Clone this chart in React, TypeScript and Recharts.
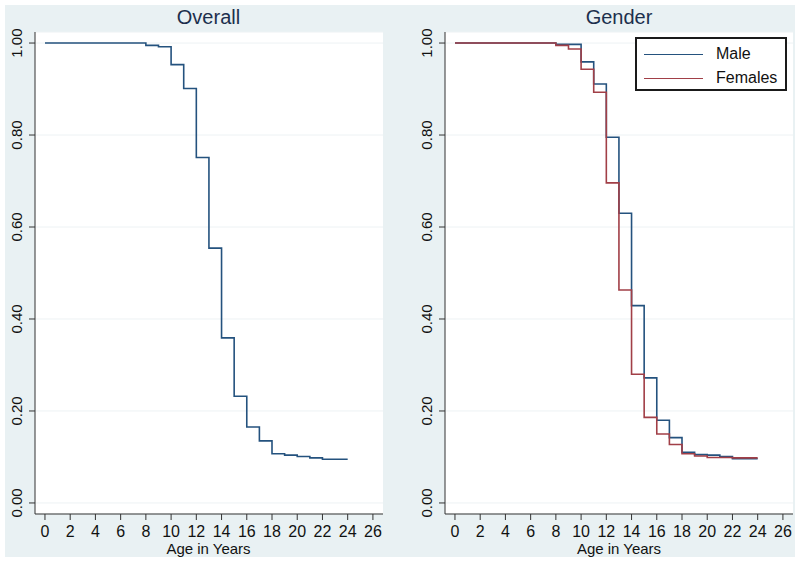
import React from "react";
import {
  LineChart,
  Line,
  XAxis,
  YAxis,
  CartesianGrid,
  Legend,
} from "recharts";

// Kaplan-Meier style survival estimates
const ages = [0, 1, 2, 3, 4, 5, 6, 7, 8, 9, 10, 11, 12, 13, 14, 15, 16, 17, 18, 19, 20, 21, 22, 23, 24];
const overall = [
  1, 1, 1, 1, 1, 1, 1, 1, 0.995, 0.992, 0.953, 0.901, 0.751, 0.554, 0.359,
  0.232, 0.165, 0.135, 0.107, 0.104, 0.101, 0.098, 0.095, 0.095, 0.095,
];
const male = [
  1, 1, 1, 1, 1, 1, 1, 1, 0.997, 0.997, 0.959, 0.911, 0.795, 0.63, 0.429,
  0.272, 0.18, 0.142, 0.11, 0.105, 0.104, 0.101, 0.096, 0.096, 0.096,
];
const females = [
  1, 1, 1, 1, 1, 1, 1, 1, 0.995, 0.987, 0.943, 0.893, 0.696, 0.463, 0.28,
  0.186, 0.15, 0.127, 0.107, 0.102, 0.099, 0.099, 0.098, 0.098, 0.098,
];
const xTicks = [0, 2, 4, 6, 8, 10, 12, 14, 16, 18, 20, 22, 24, 26];
const yTicks = [0, 0.2, 0.4, 0.6, 0.8, 1];
const legendOrder = ["male", "females"];

const BLUE = "#24527e";
const RED = "#a13f47";
const FONT = "'Liberation Sans', Arial, sans-serif";

const overallData = ages.map((age, i) => ({ age, overall: overall[i] }));
const genderData = ages.map((age, i) => ({ age, male: male[i], females: females[i] }));

// plot area: x 35..383, y 32..514 (axes take 30px each)
const margin = { top: 32, right: 17, bottom: 19, left: 5 };

const YTick = (props: any) => {
  const { x, y, payload } = props;
  const bx = x - 5;
  return (
    <text
      x={bx}
      y={y}
      transform={`rotate(-90, ${bx}, ${y})`}
      textAnchor="middle"
      fontSize={15}
      fontFamily={FONT}
      fill="#111"
    >
      {Number(payload.value).toFixed(2)}
    </text>
  );
};

const XTick = (props: any) => {
  const { x, y, payload } = props;
  return (
    <text x={x} y={y + 15} textAnchor="middle" fontSize={16} fontFamily={FONT} fill="#111">
      {payload.value}
    </text>
  );
};

const renderLegend = (props: any) => {
  const items = [...(props.payload || [])].sort(
    (a: any, b: any) => legendOrder.indexOf(a.dataKey) - legendOrder.indexOf(b.dataKey)
  );
  return (
    <div
      style={{
        boxSizing: "border-box",
        width: 152,
        height: 54,
        border: "2px solid #1a1a1a",
        background: "#fff",
        padding: "3px 0 0 7px",
        fontFamily: FONT,
        fontSize: 16,
        color: "#111",
      }}
    >
      {items.map((entry: any, index: number) => (
        <div key={`item-${index}`} style={{ display: "flex", alignItems: "center", height: 24 }}>
          <span
            style={{
              display: "inline-block",
              width: 59,
              height: 0,
              borderTop: `1.6px solid ${entry.color}`,
              marginRight: 13,
            }}
          />
          <span>{entry.value}</span>
        </div>
      ))}
    </div>
  );
};

export default function App() {
  const xAxis = (
    <XAxis
      dataKey="age"
      type="number"
      domain={[-0.79, 26.8]}
      ticks={xTicks}
      height={30}
      tick={<XTick />}
      stroke="#333"
      tickSize={6}
      tickMargin={2}
      interval={0}
    />
  );
  const yAxis = (
    <YAxis
      type="number"
      domain={[-0.024, 1.024]}
      ticks={yTicks}
      width={30}
      tick={<YTick />}
      stroke="#333"
      tickSize={6}
      tickMargin={2}
      interval={0}
    />
  );

  return (
    <div
      style={{
        position: "absolute",
        left: 0,
        top: 0,
        width: 800,
        height: 563,
        background: "#fff",
        overflow: "hidden",
        fontFamily: FONT,
      }}
    >
      <div
        style={{
          position: "absolute",
          left: 5,
          top: 5,
          width: 790,
          height: 552,
          background: "#e9f1f3",
        }}
      />

      <div style={{ position: "absolute", left: 0, top: 0 }}>
        <LineChart width={400} height={563} data={overallData} margin={margin}>
          <CartesianGrid vertical={false} fill="#fff" stroke="#edf2f4" />
          {xAxis}
          {yAxis}
          <Line
            type="stepAfter"
            dataKey="overall"
            name="Overall"
            stroke={BLUE}
            strokeWidth={1.6}
            dot={false}
            isAnimationActive={false}
          />
        </LineChart>
      </div>

      <div style={{ position: "absolute", left: 410, top: 0 }}>
        <LineChart width={390} height={563} data={genderData} margin={{ ...margin, right: 7 }}>
          <CartesianGrid vertical={false} fill="#fff" stroke="#edf2f4" />
          {xAxis}
          {yAxis}
          <Legend
            layout="vertical"
            align="center"
            verticalAlign="middle"
            wrapperStyle={{ top: 37, left: 225, width: 152, height: 54 }}
            content={renderLegend}
          />
          <Line
            type="stepAfter"
            dataKey="male"
            name="Male"
            stroke={BLUE}
            strokeWidth={1.6}
            dot={false}
            isAnimationActive={false}
          />
          <Line
            type="stepAfter"
            dataKey="females"
            name="Females"
            stroke={RED}
            strokeWidth={1.6}
            dot={false}
            isAnimationActive={false}
          />
        </LineChart>
      </div>

      <svg
        width={800}
        height={563}
        style={{ position: "absolute", left: 0, top: 0, pointerEvents: "none" }}
      >
        <text x={208.5} y={24} textAnchor="middle" fontSize={20} fontFamily={FONT} fill="#1c2f4d">
          Overall
        </text>
        <text x={619} y={24} textAnchor="middle" fontSize={20} fontFamily={FONT} fill="#1c2f4d">
          Gender
        </text>
        <text x={208.5} y={554} textAnchor="middle" fontSize={15} fontFamily={FONT} fill="#111">
          Age in Years
        </text>
        <text x={619} y={554} textAnchor="middle" fontSize={15} fontFamily={FONT} fill="#111">
          Age in Years
        </text>
      </svg>
    </div>
  );
}
